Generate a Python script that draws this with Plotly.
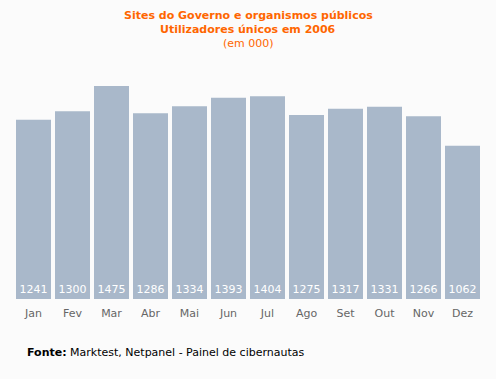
import plotly.graph_objects as go

months = ["Jan", "Fev", "Mar", "Abr", "Mai", "Jun", "Jul", "Ago", "Set", "Out", "Nov", "Dez"]
values = [1241, 1300, 1475, 1286, 1334, 1393, 1404, 1275, 1317, 1331, 1266, 1062]
title_lines = ["<b>Sites do Governo e organismos públicos</b>",
               "<b>Utilizadores únicos em 2006</b>",
               "(em 000)"]
source_text = "<b>Fonte:</b> Marktest, Netpanel - Painel de cibernautas"

W, H = 496, 379
ml, mr, mt, mb = 14, 14, 60, 80
ph = H - mt - mb
pw = W - ml - mr

fig = go.Figure(go.Bar(
    x=months, y=values,
    marker=dict(color="#a9b8ca", line=dict(width=0)),
    text=[str(v) for v in values],
    textposition="inside",
    insidetextanchor="start",
    textangle=0,
    textfont=dict(family="DejaVu Sans", size=11, color="#ffffff"),
    constraintext="none",
    hoverinfo="skip",
))

annotations = []
for i, t in enumerate(title_lines):
    y_px = 15 + 14 * i
    annotations.append(dict(
        text=t, xref="paper", yref="paper",
        x=(248 - ml) / pw, xanchor="center",
        y=(H - mb - y_px) / ph, yanchor="middle",
        showarrow=False,
        font=dict(family="DejaVu Sans", size=11, color="#ff6600"),
    ))
annotations.append(dict(
    text=source_text,
    xref="paper", yref="paper",
    x=(25 - ml) / pw, xanchor="left",
    y=-(352 - (H - mb)) / ph, yanchor="middle",
    showarrow=False,
    font=dict(family="DejaVu Sans", size=11, color="#000000"),
))

fig.update_layout(
    width=W, height=H,
    margin=dict(l=ml, r=mr, t=mt, b=mb, autoexpand=False),
    paper_bgcolor="#fbfbfb",
    plot_bgcolor="#fbfbfb",
    bargap=4 / 39,
    showlegend=False,
    font=dict(family="DejaVu Sans", size=11, color="#666666"),
    xaxis=dict(showgrid=False, showline=False, zeroline=False, ticks="",
               tickfont=dict(size=11, color="#666666"), ticklabelstandoff=6),
    yaxis=dict(visible=False, range=[0, (299 - mt) / ((299 - 86) / 1475)]),
    annotations=annotations,
)

fig.write_html("out.html", config={"displayModeBar": False},
               post_script="document.body.style.margin='0';document.body.style.background='#fbfbfb';")
